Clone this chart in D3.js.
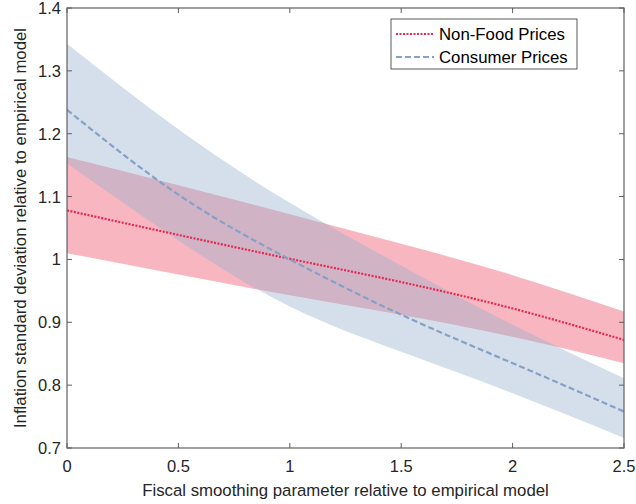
<!DOCTYPE html>
<html>
<head>
<meta charset="utf-8">
<script src="https://cdn.jsdelivr.net/npm/d3@7"></script>
<style>
  body { margin: 0; background: #fff; }
  svg { font-family: "Liberation Sans", Arial, sans-serif; }
</style>
</head>
<body>
<div id="chart"></div>
<script>
const xValues = [0, 0.5, 1, 1.5, 2, 2.5];

// Non-Food Prices
const nonFoodMid = [1.078, 1.039, 1.001, 0.964, 0.922, 0.872];
const nonFoodUpper = [1.163, 1.118, 1.072, 1.025, 0.975, 0.917];
const nonFoodLower = [1.010, 0.976, 0.943, 0.912, 0.877, 0.835];

// Consumer Prices
const consumerMid = [1.238, 1.103, 1.0, 0.912, 0.835, 0.758];
const consumerUpper = [1.343, 1.207, 1.09, 0.99, 0.896, 0.811];
const consumerLower = [1.153, 1.03, 0.925, 0.853, 0.787, 0.716];

const xTicks = [0, 0.5, 1, 1.5, 2, 2.5];
const yTicks = [0.7, 0.8, 0.9, 1, 1.1, 1.2, 1.3, 1.4];
const legendLabels = ["Non-Food Prices", "Consumer Prices"];

const width = 636;
const height = 504;
const margin = { top: 8, right: 12, bottom: 56, left: 67 };

const svg = d3.select("#chart")
  .append("svg")
  .attr("width", width)
  .attr("height", height);

const x = d3.scaleLinear().domain([0, 2.5]).range([margin.left, width - margin.right]);
const y = d3.scaleLinear().domain([0.7, 1.4]).range([height - margin.bottom, margin.top]);

svg.append("clipPath").attr("id", "plotclip")
  .append("rect")
  .attr("x", margin.left).attr("y", margin.top)
  .attr("width", width - margin.left - margin.right)
  .attr("height", height - margin.top - margin.bottom);

const plot = svg.append("g").attr("clip-path", "url(#plotclip)");

function band(upper, lower) {
  return d3.area()
    .x((d, i) => x(xValues[i]))
    .y0((d, i) => y(lower[i]))
    .y1((d, i) => y(upper[i]))
    .curve(d3.curveNatural)(xValues);
}

function line(vals) {
  return d3.line()
    .x((d, i) => x(xValues[i]))
    .y((d, i) => y(vals[i]))
    .curve(d3.curveNatural)(xValues);
}

plot.append("path")
  .attr("d", band(nonFoodUpper, nonFoodLower))
  .attr("fill", "rgb(242,110,130)")
  .attr("fill-opacity", 0.5);

plot.append("path")
  .attr("d", band(consumerUpper, consumerLower))
  .attr("fill", "rgb(148,176,205)")
  .attr("fill-opacity", 0.4);

plot.append("path")
  .attr("d", line(nonFoodMid))
  .attr("fill", "none")
  .attr("stroke", "rgb(232,40,80)")
  .attr("stroke-width", 2.2)
  .attr("stroke-dasharray", "2,1.5");

plot.append("path")
  .attr("d", line(consumerMid))
  .attr("fill", "none")
  .attr("stroke", "rgb(135,160,198)")
  .attr("stroke-width", 2.2)
  .attr("stroke-dasharray", "6,3");

// axes box
const axisColor = "#5f5f5f";
const x0 = margin.left, x1 = width - margin.right;
const y0 = height - margin.bottom, y1 = margin.top;

svg.append("rect")
  .attr("x", x0).attr("y", y1)
  .attr("width", x1 - x0).attr("height", y0 - y1)
  .attr("fill", "none")
  .attr("stroke", axisColor)
  .attr("stroke-width", 1.2);

const tickLen = 5;
const tickFont = 16.5;
const xAxisG = svg.append("g");
xTicks.forEach(t => {
  xAxisG.append("line")
    .attr("x1", x(t)).attr("x2", x(t))
    .attr("y1", y0).attr("y2", y0 - tickLen)
    .attr("stroke", axisColor);
  xAxisG.append("line")
    .attr("x1", x(t)).attr("x2", x(t))
    .attr("y1", y1).attr("y2", y1 + tickLen)
    .attr("stroke", axisColor);
  xAxisG.append("text")
    .attr("x", x(t))
    .attr("y", y0 + 24)
    .attr("text-anchor", "middle")
    .attr("font-size", tickFont)
    .attr("fill", "#262626")
    .text(t);
});

const yAxisG = svg.append("g");
yTicks.forEach(t => {
  yAxisG.append("line")
    .attr("x1", x0).attr("x2", x0 + tickLen)
    .attr("y1", y(t)).attr("y2", y(t))
    .attr("stroke", axisColor);
  yAxisG.append("line")
    .attr("x1", x1).attr("x2", x1 - tickLen)
    .attr("y1", y(t)).attr("y2", y(t))
    .attr("stroke", axisColor);
  yAxisG.append("text")
    .attr("x", x0 - 6)
    .attr("y", y(t) + 6)
    .attr("text-anchor", "end")
    .attr("font-size", tickFont)
    .attr("fill", "#262626")
    .text(t);
});

svg.append("text")
  .attr("x", (x0 + x1) / 2)
  .attr("y", 496)
  .attr("text-anchor", "middle")
  .attr("font-size", 16.8)
  .attr("fill", "#262626")
  .text("Fiscal smoothing parameter relative to empirical model");

svg.append("text")
  .attr("transform", "translate(26," + ((y0 + y1) / 2) + ") rotate(-90)")
  .attr("text-anchor", "middle")
  .attr("font-size", 16.8)
  .attr("fill", "#262626")
  .text("Inflation standard deviation relative to empirical model");

// legend
const legend = svg.append("g");
legend.append("rect")
  .attr("x", 391).attr("y", 19)
  .attr("width", 186).attr("height", 50)
  .attr("fill", "#fff")
  .attr("stroke", "#333")
  .attr("stroke-width", 0.8);

const legendStyles = [
  { stroke: "rgb(232,40,80)", dash: "2,1.5" },
  { stroke: "rgb(135,160,198)", dash: "6,3" }
];
legendLabels.forEach((lab, i) => {
  const ly = 34 + i * 23;
  legend.append("line")
    .attr("x1", 396).attr("x2", 434)
    .attr("y1", ly).attr("y2", ly)
    .attr("stroke", legendStyles[i].stroke)
    .attr("stroke-width", 2.2)
    .attr("stroke-dasharray", legendStyles[i].dash);
  legend.append("text")
    .attr("x", 439)
    .attr("y", ly + 6)
    .attr("font-size", 16.8)
    .attr("fill", "#000")
    .text(lab);
});
</script>
</body>
</html>
